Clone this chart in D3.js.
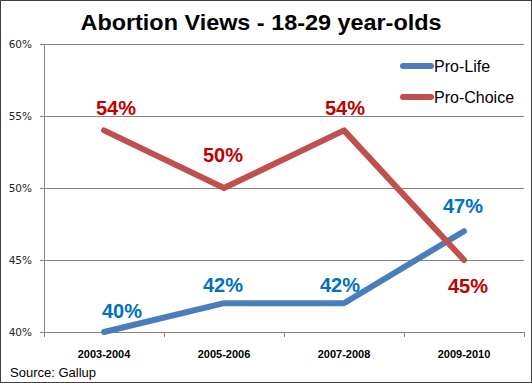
<!DOCTYPE html>
<html><head><meta charset="utf-8">
<script src="https://cdn.jsdelivr.net/npm/d3@7"></script>
<style>html,body{margin:0;padding:0;background:#fff;}svg{display:block;}</style>
</head><body>
<svg id="c" width="532" height="383"></svg>
<script>
const categories = ["2003-2004","2005-2006","2007-2008","2009-2010"];
const proLife = [40,42,42,47];
const proChoice = [54,50,54,45];
const seriesNames = ["Pro-Life","Pro-Choice"];
const yTicks = [40,45,50,55,60];

const colors = {"Pro-Life":"#4a7ebb","Pro-Choice":"#c0504d"};
const labelColors = {"Pro-Life":"#0070c0","Pro-Choice":"#c00000"};
// label offsets (dx, dy of baseline) relative to each point
const labelOffsets = {
  "Pro-Life":[[18,-14],[-1,-11],[-4,-11],[-1,-18]],
  "Pro-Choice":[[12,-15],[-1,-26],[1,-15],[4,33]]
};

const svg = d3.select("#c");
const W=532,H=383;
svg.append("rect").attr("x",0.5).attr("y",0.5).attr("width",W-1).attr("height",H-1)
  .attr("fill","#fff").attr("stroke","#404040").attr("stroke-width",1);

const x = d3.scaleBand().domain(categories).range([44,524]);
const y = d3.scaleLinear().domain([40,60]).range([332,44]);

// gridlines
svg.append("g").selectAll("line").data(yTicks).join("line")
  .attr("x1",40).attr("x2",524).attr("y1",d=>y(d)+0.5).attr("y2",d=>y(d)+0.5)
  .attr("stroke","#868686").attr("stroke-width",1);
// y axis line
svg.append("line").attr("x1",44.5).attr("x2",44.5).attr("y1",y(60)).attr("y2",y(40))
  .attr("stroke","#868686");
// y labels
svg.append("g").selectAll("text").data(yTicks).join("text")
  .attr("x",32).attr("y",d=>y(d)+4).attr("text-anchor","end")
  .attr("font-family","DejaVu Sans, Verdana, sans-serif").attr("font-size",10.5)
  .attr("fill","#222").text(d=>d+"%");

// x axis ticks
const bounds = categories.map(c=>x(c)).concat([524]);
svg.append("g").selectAll("line").data(bounds).join("line")
  .attr("x1",d=>Math.round(d)+0.5).attr("x2",d=>Math.round(d)+0.5).attr("y1",332).attr("y2",337)
  .attr("stroke","#868686");
svg.append("g").selectAll("text").data(categories).join("text")
  .attr("x",d=>x(d)+x.bandwidth()/2).attr("y",358).attr("text-anchor","middle")
  .attr("font-family","Liberation Sans, Arial, sans-serif").attr("font-weight","bold").attr("font-size",11)
  .attr("fill","#000").text(d=>d);

// title
svg.append("text").attr("x",261).attr("y",30).attr("text-anchor","middle")
  .attr("font-family","Liberation Sans, Arial, sans-serif").attr("font-weight","bold").attr("font-size",22)
  .attr("textLength",361).attr("lengthAdjust","spacingAndGlyphs")
  .attr("fill","#000").text("Abortion Views - 18-29 year-olds");

// source
svg.append("text").attr("x",10).attr("y",377)
  .attr("font-family","Liberation Sans, Arial, sans-serif").attr("font-size",13)
  .attr("fill","#000").text("Source: Gallup");

const seriesData = {"Pro-Life":proLife,"Pro-Choice":proChoice};
const line = d3.line().x((d,i)=>x(categories[i])+x.bandwidth()/2).y(d=>y(d));

seriesNames.forEach(name=>{
  svg.append("path").datum(seriesData[name]).attr("d",line)
    .attr("fill","none").attr("stroke",colors[name]).attr("stroke-width",6)
    .attr("stroke-linecap","round").attr("stroke-linejoin","round");
});
seriesNames.forEach(name=>{
  svg.append("g").selectAll("text").data(seriesData[name]).join("text")
    .attr("x",(d,i)=>x(categories[i])+x.bandwidth()/2+labelOffsets[name][i][0])
    .attr("y",(d,i)=>y(d)+labelOffsets[name][i][1])
    .attr("text-anchor","middle")
    .attr("font-family","Liberation Sans, Arial, sans-serif").attr("font-weight","bold").attr("font-size",20)
    .attr("fill",labelColors[name]).text(d=>d+"%");
});

// legend
const lg = svg.append("g");
seriesNames.forEach((name,i)=>{
  const ly = 66 + i*31;
  lg.append("line").attr("x1",403).attr("x2",431).attr("y1",ly).attr("y2",ly)
    .attr("stroke",colors[name]).attr("stroke-width",6).attr("stroke-linecap","round");
  lg.append("text").attr("x",434).attr("y",ly+6)
    .attr("font-family","Liberation Sans, Arial, sans-serif").attr("font-size",16)
    .attr("fill","#000").text(name);
});
</script>
</body></html>
